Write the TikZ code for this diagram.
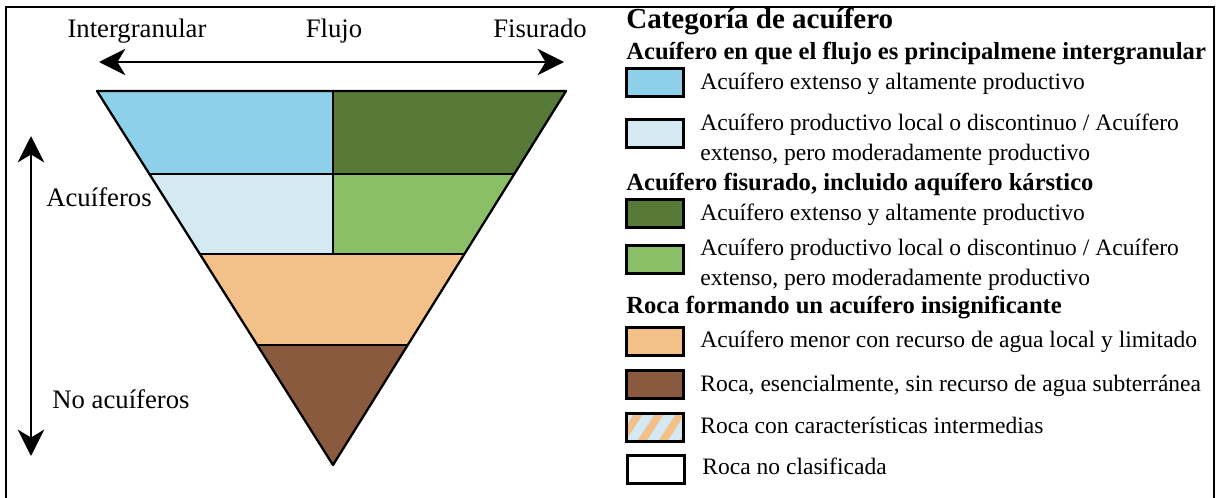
\documentclass[tikz,border=0pt]{standalone}
\usepackage{fontspec}
\setmainfont{Liberation Serif}
\usetikzlibrary{arrows.meta,calc}
\definecolor{cblue}{HTML}{8ED0EA}
\definecolor{cpale}{HTML}{D4E9F1}
\definecolor{cdkgreen}{HTML}{587A38}
\definecolor{cgreen}{HTML}{8BBF67}
\definecolor{corange}{HTML}{F2C088}
\definecolor{cbrown}{HTML}{8A5A3F}
\begin{document}
\begin{tikzpicture}[x=0.02cm,y=-0.02cm,
  lbl/.style={font=\fontsize{15.2}{17}\selectfont, inner sep=0, anchor=base},
  legtxt/.style={font=\fontsize{13.4}{17}\selectfont, anchor=base west, inner sep=0, align=left},
  head/.style={font=\bfseries\fontsize{14}{16}\selectfont, anchor=base west, inner sep=0},
  legbox/.style={draw=black, line width=1.7pt, minimum width=1.14cm, minimum height=0.56cm, inner sep=0, anchor=north west},
  tri/.style={draw=black, line width=1.3pt, line join=round},
  bigarrow/.style={line width=1.5pt, {Stealth[length=15pt,width=15pt,inset=4.5pt]}-{Stealth[length=15pt,width=15pt,inset=4.5pt]}}]
\path[use as bounding box] (0,0) rectangle (1220,497);
\draw[line width=1.1pt] (6,500) -- (6,7) -- (1214,7) -- (1214,500);

% triangle
\coordinate (TL) at (97,91);
\coordinate (TR) at (566,91);
\coordinate (AP) at (333,465);
\coordinate (TM) at (333,91);
\coordinate (L1) at ($(TL)!0.222!(AP)$);
\coordinate (R1) at ($(TR)!0.222!(AP)$);
\coordinate (M1) at (333,174);
\coordinate (L2) at ($(TL)!0.436!(AP)$);
\coordinate (R2) at ($(TR)!0.436!(AP)$);
\coordinate (M2) at (333,254);
\coordinate (L3) at ($(TL)!0.679!(AP)$);
\coordinate (R3) at ($(TR)!0.679!(AP)$);
\fill[cblue] (TL) -- (TM) -- (M1) -- (L1) -- cycle;
\fill[cdkgreen] (TM) -- (TR) -- (R1) -- (M1) -- cycle;
\fill[cpale] (L1) -- (M1) -- (M2) -- (L2) -- cycle;
\fill[cgreen] (M1) -- (R1) -- (R2) -- (M2) -- cycle;
\fill[corange] (L2) -- (R2) -- (R3) -- (L3) -- cycle;
\fill[cbrown] (L3) -- (R3) -- (AP) -- cycle;
\draw[tri] (L1) -- (R1) (L2) -- (R2) (L3) -- (R3) (TM) -- (M2);
\draw[tri] (TL) -- (TR) -- (AP) -- cycle;

% arrows
\coordinate (hl) at (99,62);
\coordinate (hr) at (564,62);
\draw[bigarrow] (hl) -- (hr);
\coordinate (vt) at (31,136);
\coordinate (vb) at (31,456);
\draw[bigarrow] (vt) -- (vb);

\node[lbl] (tint) at (137,37) {Intergranular};
\node[lbl] (tflu) at (334,37) {Flujo};
\node[lbl] (tfis) at (540,37) {Fisurado};
\node[lbl] (tacu) at (99,206) {Acuíferos};
\node[lbl] (tnoa) at (121,408) {No acuíferos};

% legend
\node[head, font=\bfseries\fontsize{16.5}{18}\selectfont] (ltit) at (626,29) {Categoría de acuífero};
\node[head] (lh1) at (626,59) {Acuífero en que el flujo es principalmene intergranular};
\node[legbox, fill=cblue] (b1) at (625,67) {};
\node[legtxt] (t1) at (700,89) {Acuífero extenso y altamente productivo};
\node[legbox, fill=cpale] (b2) at (625,118) {};
\node[legtxt, anchor=north west] (t2) at (700,114) {Acuífero productivo local o discontinuo / Acuífero\\extenso, pero moderadamente productivo};
\node[head] (lh2) at (626,190) {Acuífero fisurado, incluido aquífero kárstico};
\node[legbox, fill=cdkgreen] (b3) at (625,198) {};
\node[legtxt] (t3) at (700,220) {Acuífero extenso y altamente productivo};
\node[legbox, fill=cgreen] (b4) at (625,244) {};
\node[legtxt, anchor=north west] (t4) at (700,239) {Acuífero productivo local o discontinuo / Acuífero\\extenso, pero moderadamente productivo};
\node[head] (lh3) at (626,313) {Roca formando un acuífero insignificante};
\node[legbox, fill=corange] (b5) at (625,326) {};
\node[legtxt] (t5) at (700,347) {Acuífero menor con recurso de agua local y limitado};
\node[legbox, fill=cbrown] (b6) at (625,369) {};
\node[legtxt] (t6) at (700,391) {Roca, esencialmente, sin recurso de agua subterránea};
\node[legbox, path picture={
    \fill[corange] (path picture bounding box.south west) rectangle (path picture bounding box.north east);
    \foreach \i in {-2,...,3}
      \draw[cpale, line width=5.5pt] ($(path picture bounding box.south west)+(\i*21+2,4)$) -- ++(26,-40);
  }] (b7) at (625,412) {};
\node[legtxt] (t7) at (700,433) {Roca con características intermedias};
\node[legbox, fill=white] (b8) at (626,454) {};
\node[legtxt] (t8) at (702,474) {Roca no clasificada};
\end{tikzpicture}
\end{document}
